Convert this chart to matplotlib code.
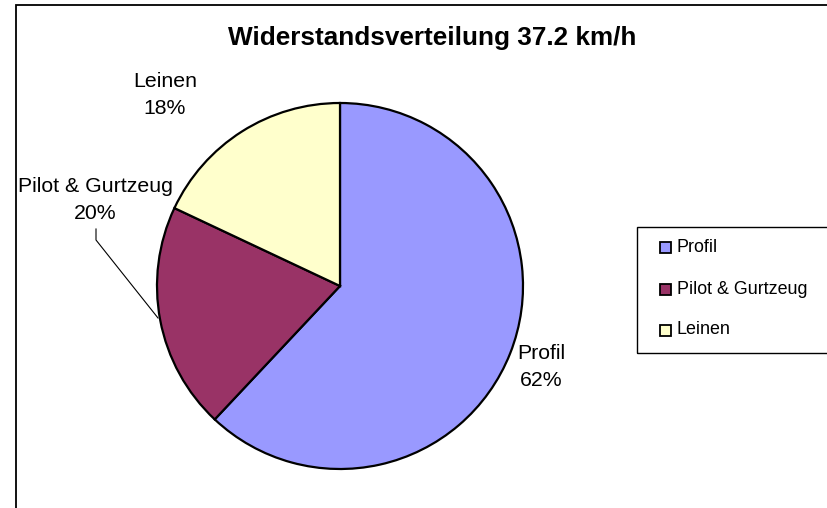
import matplotlib.pyplot as plt
from matplotlib.patches import Rectangle
from matplotlib.lines import Line2D

plt.rcParams['font.family'] = ['Liberation Sans', 'DejaVu Sans']

# data
categories = ['Profil', 'Pilot & Gurtzeug', 'Leinen']
shares = [62, 20, 18]
colors = ['#9999FF', '#993366', '#FFFFCC']
title = 'Widerstandsverteilung 37.2 km/h'

W, H = 827, 508
fig = plt.figure(figsize=(W / 100, H / 100), dpi=100)
ax = fig.add_axes([0, 0, 1, 1])

def py(y):
    # pixel row -> axes y
    return H - y

# chart area frame (runs off the right and bottom edges)
ax.add_patch(Rectangle((16, py(530)), 840, 525, fill=False, ec='black', lw=1.3))

ax.text(432, py(38), title, ha='center', va='center', fontsize=18.8, fontweight='bold')

wedges, _ = ax.pie(shares, colors=colors, startangle=90, counterclock=False,
                   center=(340, py(286)), radius=183, frame=True,
                   wedgeprops=dict(edgecolor='black', linewidth=1.6))
ax.set_xlim(0, W)
ax.set_ylim(0, H)
ax.set_aspect('auto')
ax.axis('off')

# data labels
lab_pos = [(541, 367), (95, 200), (165, 95)]
for name, val, (x, y) in zip(categories, shares, lab_pos):
    ax.text(x, py(y), f'{name}\n{val}%', ha='center', va='center',
            fontsize=15.3, linespacing=1.5)

# leader line for the Pilot label
ax.add_line(Line2D([96, 96, 158], [py(229), py(240), py(318)], color='black', lw=0.8))

# legend box
ax.add_patch(Rectangle((637, py(353)), 200, 126, fill=False, ec='black', lw=1))
rows = [247.5, 289.5, 330]
for name, c, y in zip(categories, colors, rows):
    ax.add_patch(Rectangle((660, py(y) - 5.5), 11, 11, fc=c, ec='black', lw=1.3))
    ax.text(677, py(y), name, ha='left', va='center', fontsize=12.9)

fig.savefig('out.png', dpi=100)
